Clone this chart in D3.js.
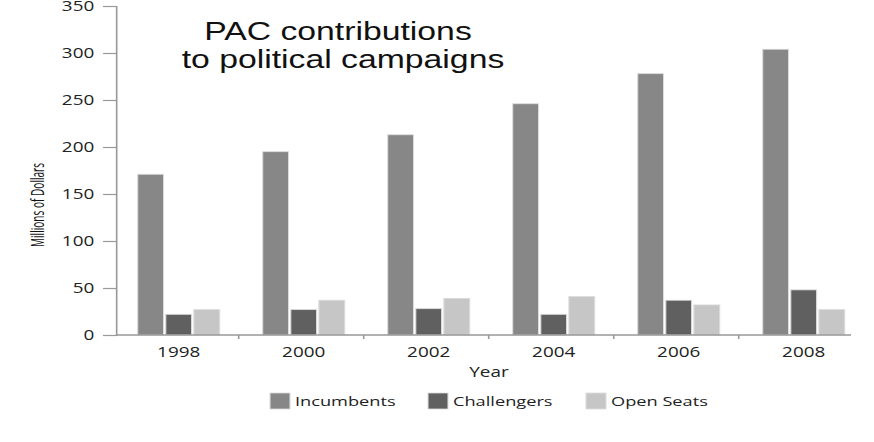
<!DOCTYPE html>
<html>
<head>
<meta charset="utf-8">
<script src="https://cdn.jsdelivr.net/npm/d3@7"></script>
<style>
  body { margin: 0; background: #fff; }
  svg { display: block; }
  .tick text { font-family: "Open Sans", sans-serif; font-size: 14px; fill: #222; }
</style>
</head>
<body>
<svg id="chart"></svg>
<script>
// chart data
var years = ["1998", "2000", "2002", "2004", "2006", "2008"];
var seriesNames = ["Incumbents", "Challengers", "Open Seats"];
var incumbents = [171, 195, 213, 246, 278, 304];
var challengers = [22, 27, 28, 22, 37, 48];
var openSeats = [27, 37, 39, 41, 32, 27];
var yTicks = [0, 50, 100, 150, 200, 250, 300, 350];

var width = 874, height = 442;
// the reference picture is stretched sideways, so draw in a squeezed space and scale it back
var S = 1.35;

var colors = { "Incumbents": "#878787", "Challengers": "#606060", "Open Seats": "#c6c6c6" };

var rows = years.map(function(y, i) {
    return { year: y, "Incumbents": incumbents[i], "Challengers": challengers[i], "Open Seats": openSeats[i] };
});

var svg = d3.select("#chart")
    .attr("width", width)
    .attr("height", height);

var g = svg.append("g").attr("transform", "scale(" + S + ",1)");

var x0 = d3.scaleBand()
    .domain(years)
    .range([113.7 / S, 863.7 / S])
    .padding(0);

var x1 = d3.scaleBand()
    .domain(seriesNames)
    .range([24 / S, 106 / S])
    .paddingInner(0.08);

var y = d3.scaleLinear()
    .domain([0, 350])
    .range([335, 6]);

var axisX = 116 / S;

// y axis
var yAxis = g.append("g")
    .attr("transform", "translate(" + axisX + ",0)")
    .call(d3.axisLeft(y).tickValues(yTicks).tickSize(9.6).tickPadding(6.5));
yAxis.select(".domain").attr("stroke", "#999").attr("stroke-width", 1.2);
yAxis.selectAll(".tick line").attr("stroke", "#999").attr("stroke-width", 1.2);

// bars
var groups = g.append("g")
    .selectAll("g")
    .data(rows)
    .enter().append("g")
    .attr("transform", function(d) { return "translate(" + x0(d.year) + ",0)"; });

groups.selectAll("rect")
    .data(function(d) { return seriesNames.map(function(k) { return { key: k, value: d[k] }; }); })
    .enter().append("rect")
    .attr("x", function(d) { return x1(d.key); })
    .attr("width", x1.bandwidth())
    .attr("y", function(d) { return y(d.value); })
    .attr("height", function(d) { return y(0) - y(d.value); })
    .attr("fill", function(d) { return colors[d.key]; })
    .attr("stroke", "#dcdcdc")
    .attr("stroke-width", 0.8);

// x axis line and the little ticks between the year groups
g.append("line")
    .attr("x1", axisX)
    .attr("x2", 851 / S)
    .attr("y1", y(0))
    .attr("y2", y(0))
    .attr("stroke", "#999")
    .attr("stroke-width", 1.4);

g.append("g")
    .selectAll("line")
    .data(years.slice(1))
    .enter().append("line")
    .attr("x1", function(d) { return x0(d); })
    .attr("x2", function(d) { return x0(d); })
    .attr("y1", y(0))
    .attr("y2", y(0) + 4)
    .attr("stroke", "#999")
    .attr("stroke-width", 1.2);

// year labels, centred under each bar group
g.append("g")
    .attr("class", "tick")
    .selectAll("text")
    .data(years)
    .enter().append("text")
    .attr("x", function(d) { return x0(d) + (x1.range()[0] + x1.range()[1]) / 2; })
    .attr("y", 357)
    .attr("text-anchor", "middle")
    .text(function(d) { return d; });

// axis titles
g.append("text")
    .attr("x", 489 / S)
    .attr("y", 377)
    .attr("text-anchor", "middle")
    .style("font-family", "'Open Sans', sans-serif")
    .style("font-size", "14px")
    .style("fill", "#222")
    .text("Year");

g.append("text")
    .attr("transform", "translate(" + (44 / S) + "," + 205 + ") rotate(-90)")
    .attr("text-anchor", "middle")
    .attr("textLength", 84)
    .attr("lengthAdjust", "spacingAndGlyphs")
    .style("font-family", "'Open Sans', sans-serif")
    .style("font-size", "13.5px")
    .style("fill", "#111")
    .text("Millions of Dollars");

// title
g.append("text")
    .attr("x", 338 / S)
    .attr("y", 40)
    .attr("text-anchor", "middle")
    .style("font-family", "'Liberation Sans', Arial, sans-serif")
    .style("font-size", "25px")
    .style("fill", "#111")
    .text("PAC contributions");

g.append("text")
    .attr("x", 343 / S)
    .attr("y", 68)
    .attr("text-anchor", "middle")
    .style("font-family", "'Liberation Sans', Arial, sans-serif")
    .style("font-size", "25px")
    .style("fill", "#111")
    .text("to political campaigns");

// legend
var legend = g.append("g")
    .selectAll("g")
    .data(seriesNames)
    .enter().append("g")
    .attr("transform", function(d, i) { return "translate(" + ((270 + i * 158) / S) + ",393)"; });

legend.append("rect")
    .attr("width", 20 / S)
    .attr("height", 16)
    .attr("fill", function(d) { return colors[d]; })
    .attr("stroke", "#dcdcdc")
    .attr("stroke-width", 0.8);

legend.append("text")
    .attr("x", 25 / S)
    .attr("y", 13)
    .style("font-family", "'Open Sans', sans-serif")
    .style("font-size", "13.5px")
    .style("fill", "#222")
    .text(function(d) { return d; });
</script>
</body>
</html>
